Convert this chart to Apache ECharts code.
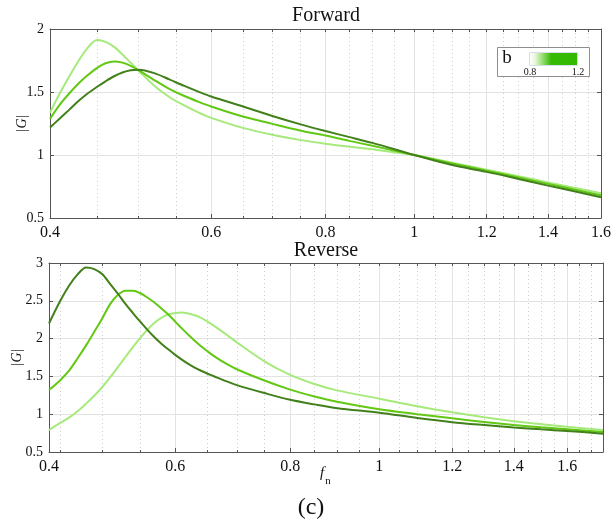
<!DOCTYPE html>
<html>
<head>
<meta charset="utf-8">
<script src="https://cdn.jsdelivr.net/npm/echarts@6/dist/echarts.min.js"></script>
<style>
  html, body { margin: 0; padding: 0; background: #fff; }
  #chart { width: 614px; height: 527px; }
</style>
</head>
<body>
<div id="chart"></div>
<script>
// Forward gain |G| versus normalised frequency f_n, three values of b
const fwdF   = [0.4, 0.41, 0.42, 0.43, 0.44, 0.45, 0.46, 0.47, 0.48, 0.49, 0.5, 0.52, 0.54, 0.56, 0.58, 0.6, 0.65, 0.7, 0.75, 0.8, 0.85, 0.9, 0.95, 1.0, 1.1, 1.2, 1.3, 1.4, 1.5, 1.6];
const fwdB08 = [1.335, 1.49, 1.625, 1.75, 1.852, 1.912, 1.898, 1.858, 1.797, 1.732, 1.668, 1.55, 1.46, 1.395, 1.34, 1.295, 1.215, 1.16, 1.12, 1.09, 1.066, 1.045, 1.022, 1.0, 0.938, 0.884, 0.832, 0.782, 0.738, 0.696];
const fwdB10 = [1.287, 1.40, 1.49, 1.57, 1.635, 1.69, 1.728, 1.743, 1.733, 1.708, 1.672, 1.595, 1.525, 1.47, 1.425, 1.385, 1.305, 1.247, 1.195, 1.155, 1.112, 1.073, 1.036, 1.0, 0.933, 0.876, 0.822, 0.771, 0.724, 0.68];
const fwdB12 = [1.218, 1.29, 1.36, 1.43, 1.49, 1.54, 1.585, 1.625, 1.655, 1.673, 1.677, 1.65, 1.60, 1.55, 1.505, 1.464, 1.385, 1.31, 1.245, 1.19, 1.142, 1.096, 1.048, 1.0, 0.92, 0.866, 0.81, 0.757, 0.71, 0.665];

// Reverse gain |G|
const revF   = [0.4375, 0.45, 0.46, 0.47, 0.48, 0.49, 0.5, 0.51, 0.52, 0.53, 0.54, 0.55, 0.56, 0.57, 0.58, 0.59, 0.6, 0.61, 0.62, 0.63, 0.64, 0.65, 0.66, 0.68, 0.7, 0.75, 0.8, 0.85, 0.9, 1.0, 1.1, 1.2, 1.3, 1.4, 1.5, 1.6, 1.75];
const revB08 = [0.79, 0.885, 0.955, 1.04, 1.14, 1.245, 1.36, 1.49, 1.625, 1.76, 1.89, 2.012, 2.12, 2.212, 2.278, 2.322, 2.34, 2.346, 2.333, 2.308, 2.275, 2.228, 2.175, 2.065, 1.95, 1.70, 1.52, 1.40, 1.315, 1.205, 1.105, 1.025, 0.96, 0.908, 0.868, 0.833, 0.79];
const revB10 = [1.32, 1.45, 1.575, 1.74, 1.91, 2.09, 2.27, 2.46, 2.58, 2.632, 2.634, 2.60, 2.54, 2.475, 2.395, 2.315, 2.225, 2.135, 2.05, 1.972, 1.90, 1.835, 1.775, 1.675, 1.595, 1.445, 1.325, 1.235, 1.165, 1.065, 1.0, 0.945, 0.898, 0.857, 0.826, 0.80, 0.765];
const revB12 = [2.20, 2.50, 2.70, 2.85, 2.94, 2.92, 2.85, 2.72, 2.59, 2.455, 2.335, 2.22, 2.112, 2.015, 1.93, 1.855, 1.785, 1.722, 1.665, 1.617, 1.575, 1.538, 1.505, 1.44, 1.385, 1.28, 1.19, 1.13, 1.08, 1.02, 0.95, 0.895, 0.857, 0.825, 0.80, 0.778, 0.743];

// Axis ticks
const fwdMajor = [0.4, 0.6, 0.8, 1.0, 1.2, 1.4, 1.6];
const fwdMinor = [0.45, 0.5, 0.55, 0.65, 0.7, 0.75, 0.85, 0.9, 0.95, 1.05, 1.1, 1.15, 1.25, 1.3, 1.35, 1.45, 1.5, 1.55];
const revMajor = [0.4375, 0.6, 0.8, 1.0, 1.2, 1.4, 1.6];
const revMinor = [0.45, 0.5, 0.55, 0.65, 0.7, 0.75, 0.85, 0.9, 0.95, 1.05, 1.1, 1.15, 1.25, 1.3, 1.35, 1.45, 1.5, 1.55, 1.65, 1.7];

const bNames  = ['b = 0.8', 'b = 1.0', 'b = 1.2'];
const colours = ['#a6ea7c', '#62c814', '#41801a'];

const SERIF = "'Liberation Serif', 'DejaVu Serif', serif";
const AXIS_COL = '#555';

const pts = (xs, ys) => xs.map((x, i) => [x, ys[i]]);
const fmtX = v => String(Math.round(v * 10) / 10);

function xAxesFor(gridIndex, min, max, major, minor) {
  return [
    { // bottom edge: labels, major ticks, solid grid
      type: 'log', gridIndex, min, max, position: 'bottom',
      axisLine: { show: true, lineStyle: { color: AXIS_COL, width: 1 } },
      axisTick: { show: true, inside: true, length: 4, customValues: major, lineStyle: { color: AXIS_COL } },
      axisLabel: { show: true, customValues: major, formatter: fmtX, margin: 7,
        fontFamily: SERIF, fontSize: 16, color: '#111' },
      splitLine: { show: true, lineStyle: { color: '#e3e3e3', width: 1 } }
    },
    { // minor dotted grid
      type: 'log', gridIndex, min, max, position: 'bottom',
      axisLine: { show: false },
      axisTick: { show: true, inside: true, length: 2, customValues: minor, lineStyle: { color: AXIS_COL } },
      axisLabel: { show: false },
      splitLine: { show: true, lineStyle: { color: '#cfcfcf', width: 1, type: [1, 3] } }
    },
    { // top edge of the box
      type: 'log', gridIndex, min, max, position: 'top',
      axisLine: { show: true, lineStyle: { color: AXIS_COL, width: 1 } },
      axisTick: { show: true, inside: true, length: 3, customValues: major.concat(minor), lineStyle: { color: AXIS_COL } },
      axisLabel: { show: false },
      splitLine: { show: false }
    }
  ];
}

function yAxesFor(gridIndex, min, max, nameGap) {
  return [
    {
      type: 'value', gridIndex, min, max, interval: 0.5, position: 'left',
      name: '|G|', nameLocation: 'middle', nameGap, nameRotate: 90, nameMoveOverlap: false,
      nameTextStyle: { fontFamily: SERIF, fontStyle: 'italic', fontSize: 14, color: '#111' },
      axisLine: { show: true, lineStyle: { color: AXIS_COL, width: 1 } },
      axisTick: { show: true, inside: true, length: 4, lineStyle: { color: AXIS_COL } },
      axisLabel: { fontFamily: SERIF, fontSize: 14, color: '#111', margin: 6 },
      splitLine: { show: true, lineStyle: { color: '#e3e3e3', width: 1 } }
    },
    {
      type: 'value', gridIndex, min, max, interval: 0.5, position: 'right',
      axisLine: { show: true, lineStyle: { color: AXIS_COL, width: 1 } },
      axisTick: { show: true, inside: true, length: 4, lineStyle: { color: AXIS_COL } },
      axisLabel: { show: false },
      splitLine: { show: false }
    }
  ];
}

function lineSeries(name, data, colour, xi, yi) {
  return {
    name, type: 'line', data, xAxisIndex: xi, yAxisIndex: yi,
    showSymbol: false, smooth: 0.3,
    lineStyle: { color: colour, width: 2 }, itemStyle: { color: colour },
    silent: true, animation: false, z: 3
  };
}

const fwdSets = [fwdB08, fwdB10, fwdB12];
const revSets = [revB08, revB10, revB12];

const series = [];
fwdSets.forEach((ys, k) => series.push(lineSeries(bNames[k], pts(fwdF, ys), colours[k], 0, 0)));
revSets.forEach((ys, k) => series.push(lineSeries(bNames[k], pts(revF, ys), colours[k], 3, 2)));

const txt = (text, x, y, font, extra) => ({
  type: 'text', x, y, silent: true, z: 10,
  style: Object.assign({ text, font, fill: '#111', align: 'center', verticalAlign: 'middle',
    textAlign: 'center', textVerticalAlign: 'middle' }, extra || {})
});

const chart = echarts.init(document.getElementById('chart'), null, { renderer: 'canvas' });
chart.setOption({
  animation: false,
  backgroundColor: '#fff',
  grid: [
    { left: 50, right: 10, top: 29, height: 189 },
    { left: 49, right: 11, top: 263, height: 189 }
  ],
  xAxis: xAxesFor(0, 0.4, 1.6, fwdMajor, fwdMinor).concat(xAxesFor(1, 0.4375, 1.75, revMajor, revMinor)),
  yAxis: yAxesFor(0, 0.5, 2, 21).concat(yAxesFor(1, 0.5, 3, 25)),
  series,
  graphic: [
    txt('Forward', 326, 16, "normal 20px " + SERIF),
    txt('Reverse', 326, 251, "normal 20px " + SERIF),
    txt('f', 322, 473, "italic 15px " + SERIF),
    txt('n', 328, 481, "normal 11px " + SERIF),
    txt('(c)', 311, 508, "normal 24px " + SERIF),
    // colour bar legend for b
    { type: 'rect', z: 9, silent: true,
      shape: { x: 497.5, y: 47.5, width: 92, height: 29 },
      style: { fill: '#fff', stroke: '#8e8e8e', lineWidth: 1 } },
    { type: 'rect', z: 10, silent: true,
      shape: { x: 529.5, y: 52.5, width: 48, height: 13 },
      style: {
        stroke: '#d6e0ec', lineWidth: 1,
        fill: new echarts.graphic.LinearGradient(0, 0, 1, 0, [
          { offset: 0, color: '#ffffff' },
          { offset: 0.12, color: '#e9f8df' },
          { offset: 0.3, color: '#8ad862' },
          { offset: 0.45, color: '#36ba04' },
          { offset: 1, color: '#33b800' }
        ])
      } },
    txt('b', 507, 58, "normal 19px " + SERIF),
    txt('0.8', 530, 72, "normal 10px " + SERIF),
    txt('1.2', 578, 72, "normal 10px " + SERIF)
  ]
});
</script>
</body>
</html>
